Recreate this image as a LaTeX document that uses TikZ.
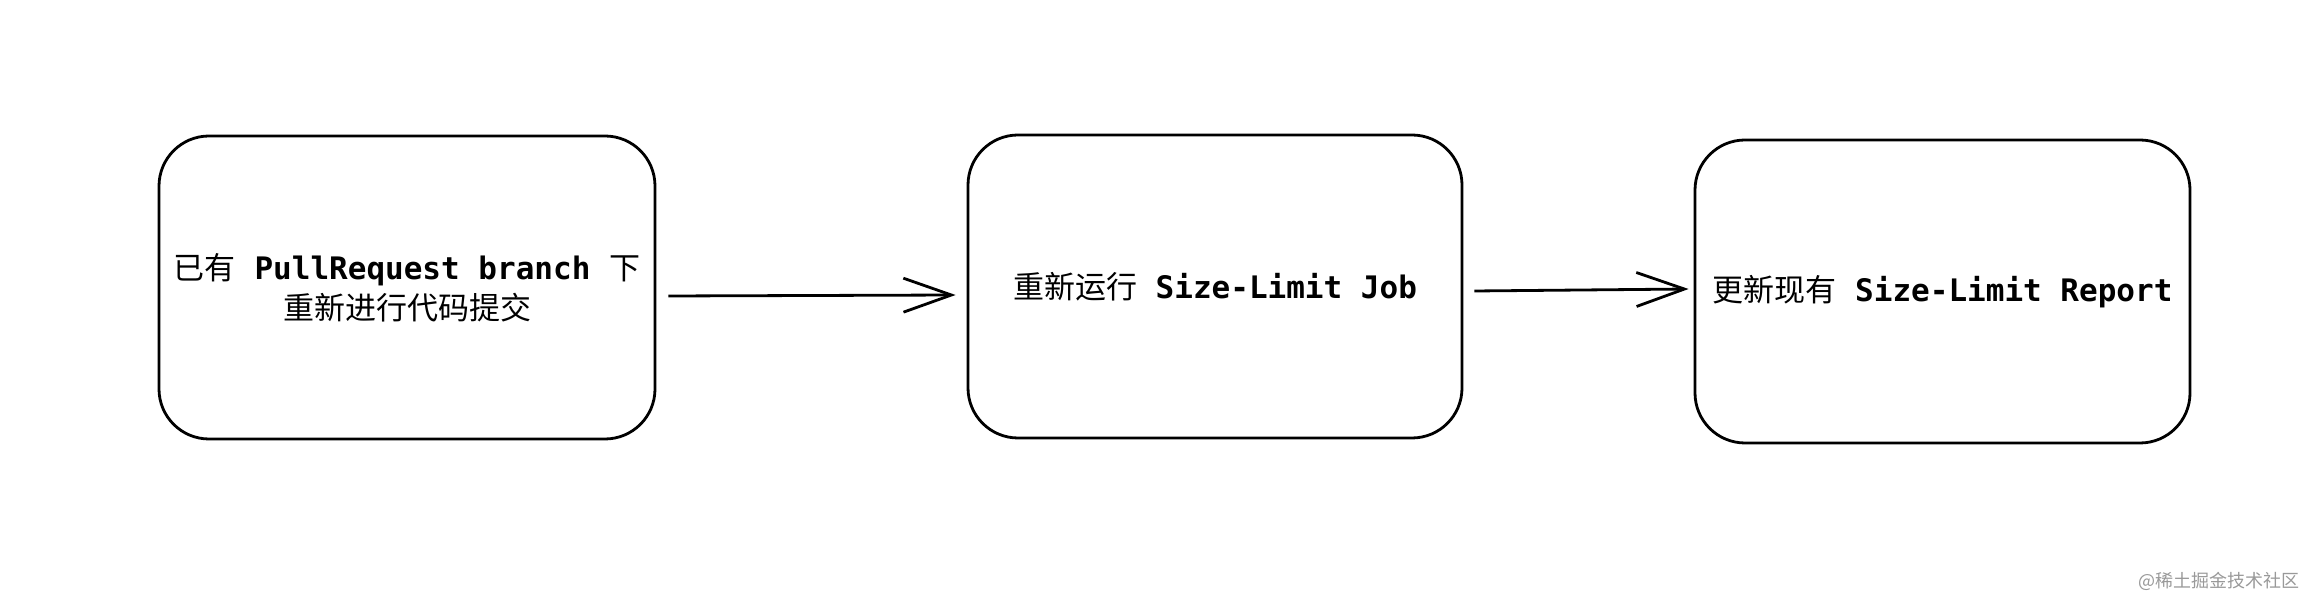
\documentclass[tikz,border=0pt]{standalone}
\usepackage{fontspec}
\usepackage{tikz}
\usetikzlibrary{arrows.meta}
\newfontfamily\cjk{Noto Sans CJK SC}
\setmonofont{DejaVu Sans Mono}
\newcommand{\zh}[1]{{\mdseries\cjk #1}}

\tikzset{
  stepbox/.style={draw, line width=2.8pt, rounded corners=50pt, align=center,
    font=\fontsize{31}{40}\selectfont\ttfamily\bfseries},
  flowarrow/.style={line width=2.8pt, -{Straight Barb[length=48pt,width=34pt]}}
}

\begin{document}
\begin{tikzpicture}[x=1pt,y=1pt]
                \useasboundingbox (0,0) rectangle (2310,594);
                % Boxes with labels
                \node at (407,306.5) [stepbox, minimum width=496pt, minimum height=303pt] (commit)
                  {\zh{已有} PullRequest branch \zh{下}\\\zh{重新进行代码提交}};
                \node at (1215,307.5) [stepbox, minimum width=494pt, minimum height=303pt] (rerun)
                  {\zh{重新运行} Size-Limit Job};
                \node at (1942.5,302.5) [stepbox, minimum width=495pt, minimum height=303pt] (report)
                  {\zh{更新现有} Size-Limit Report};
                
                % Arrows
                \draw[flowarrow] ([xshift=12pt,yshift=-8.5pt]commit.east) -- ([xshift=-11pt,yshift=-8.5pt]rerun.west);
                \draw[flowarrow] ([xshift=11pt,yshift=-4.5pt]rerun.east) -- ([xshift=-5pt,yshift=2.5pt]report.west);
                
                % Watermark
                \node[anchor=east, inner sep=0pt, text=black!40, font=\fontsize{18}{20}\selectfont\cjk] (mark) at (2300,13) {@稀土掘金技术社区};
                \end{tikzpicture}
\end{document}
